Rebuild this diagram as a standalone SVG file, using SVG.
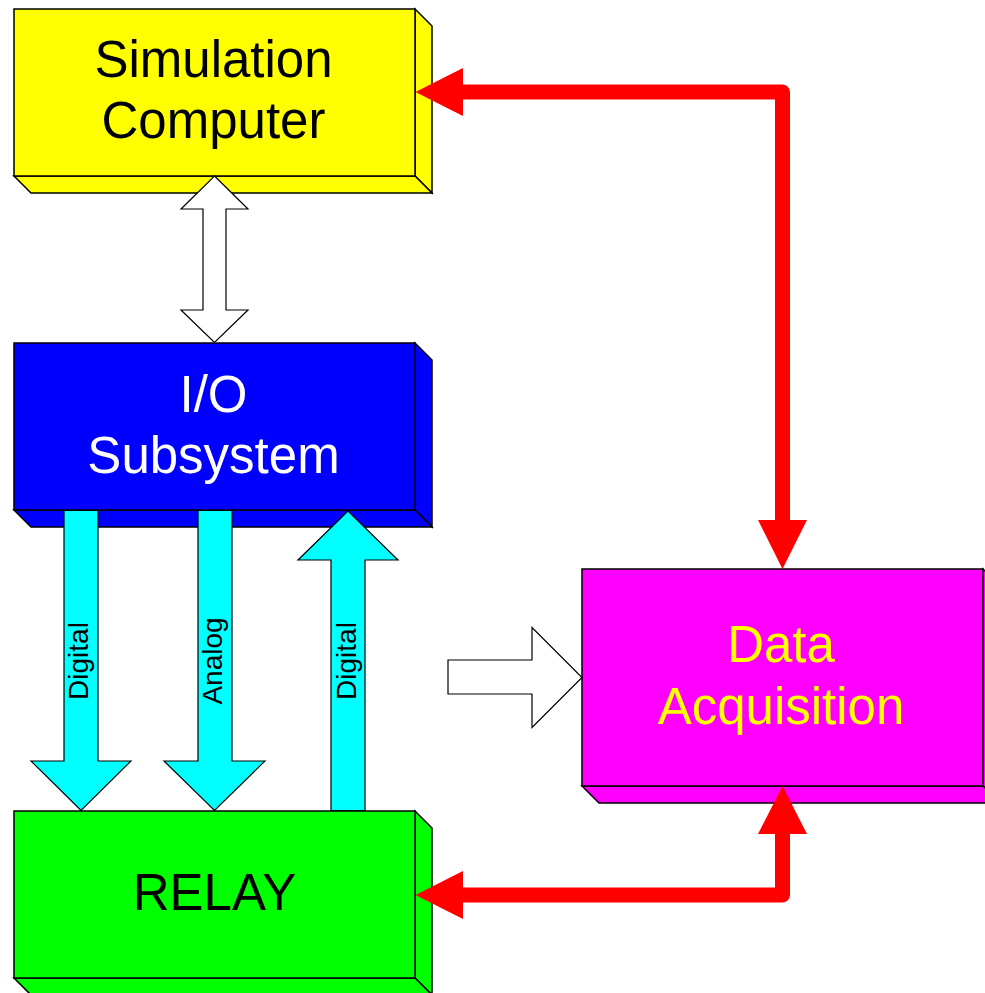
<svg xmlns="http://www.w3.org/2000/svg" width="985" height="993" viewBox="0 0 985 993">
  <style>
    .face { stroke: #000; stroke-width: 1.5; stroke-linejoin: miter; }
    .sim { fill: #FFFF00; }
    .io { fill: #0000FF; }
    .relay { fill: #00FF00; }
    .daq { fill: #FF00FF; }
    .label { font-family: "Liberation Sans", Arial, sans-serif; font-size: 51px; text-anchor: middle; }
    .small { font-family: "Liberation Sans", Arial, sans-serif; font-size: 28px; text-anchor: middle; fill: #000; }
    .bus { fill: #00FFFF; stroke: #000; stroke-width: 1.2; }
    .hollow { fill: #FFFFFF; stroke: #000; stroke-width: 1.2; }
    .wire { fill: none; stroke: #FF0000; stroke-width: 15; stroke-linejoin: round; }
    .head { fill: #FF0000; }
  </style>

  <rect width="985" height="993" fill="#FFFFFF"/>

  <!-- Simulation Computer -->
  <g id="simulation-computer">
    <polygon class="face sim" points="415,9 432,26 432,193 415,176"/>
    <polygon class="face sim" points="14,176 415,176 432,193 31,193"/>
    <rect class="face sim" x="14" y="9" width="401" height="167"/>
    <text class="label" x="213.5" y="77" fill="#000">Simulation</text>
    <text class="label" x="213.5" y="138" fill="#000">Computer</text>
  </g>

  <!-- I/O Subsystem -->
  <g id="io-subsystem">
    <polygon class="face io" points="415,343 432,360 432,527 415,510"/>
    <polygon class="face io" points="14,510 415,510 432,527 31,527"/>
    <rect class="face io" x="14" y="343" width="401" height="167"/>
    <text class="label" x="213.5" y="412" fill="#FFFFFF">I/O</text>
    <text class="label" x="213.5" y="473" fill="#FFFFFF">Subsystem</text>
  </g>

  <!-- RELAY -->
  <g id="relay">
    <polygon class="face relay" points="415,811 432,828 432,995 415,978"/>
    <polygon class="face relay" points="14,978 415,978 432,995 31,995"/>
    <rect class="face relay" x="14" y="811" width="401" height="167"/>
    <text class="label" x="214.5" y="910" fill="#000">RELAY</text>
  </g>

  <!-- Data Acquisition -->
  <g id="data-acquisition">
    <polygon class="face daq" points="983,569 1000,586 1000,803 983,786"/>
    <polygon class="face daq" points="582,786 983,786 1000,803 599,803"/>
    <rect class="face daq" x="582" y="569" width="401" height="217"/>
    <text class="label" x="781" y="662" fill="#FFFF00">Data</text>
    <text class="label" x="781" y="724" fill="#FFFF00">Acquisition</text>
  </g>

  <!-- Connectors -->
  <g id="connectors">
    <!-- computer to I/O, both ways -->
    <polygon class="hollow" points="214.5,176 248,209 226,209 226,310 248,310 214.5,342.5 181,310 203,310 203,209 181,209"/>

    <!-- digital out -->
    <polygon class="bus" points="64,510.5 98,510.5 98,761 131,761 81,810.5 31,761 64,761"/>
    <text class="small" transform="translate(88,661) rotate(-90)">Digital</text>

    <!-- analog out -->
    <polygon class="bus" points="198,510.5 232,510.5 232,761 265,761 214.5,810.5 164,761 198,761"/>
    <text class="small" transform="translate(221.5,661) rotate(-90)">Analog</text>

    <!-- digital in -->
    <polygon class="bus" points="331,810.5 365,810.5 365,560 398,560 348,511 298,560 331,560"/>
    <text class="small" transform="translate(355.5,661) rotate(-90)">Digital</text>

    <!-- feed into data acquisition -->
    <polygon class="hollow" points="448,660 532,660 532,627.5 582,677.5 532,727.5 532,694 448,694"/>

    <!-- data acquisition to computer -->
    <path class="wire" d="M 462,92 H 782.5 V 521"/>
    <polygon class="head" points="415.5,92 463,68 463,116"/>
    <polygon class="head" points="782.5,569 758,520 807,520"/>

    <!-- data acquisition to relay -->
    <path class="wire" d="M 462,895 H 782.5 V 833"/>
    <polygon class="head" points="415.5,895 463,871 463,919"/>
    <polygon class="head" points="782.5,786 758,834 807,834"/>
  </g>
</svg>
